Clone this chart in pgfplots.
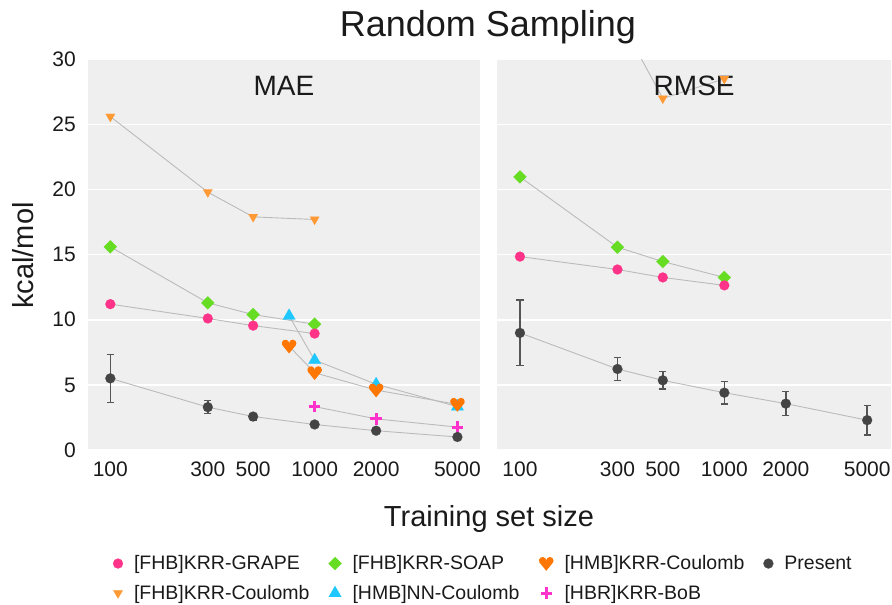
\documentclass[border=0pt]{standalone}
\usepackage{fontspec}
\setmainfont{Liberation Sans}
\usepackage{pgfplots}
\usepackage{pgfplotstable}
\pgfplotsset{compat=1.18}

\definecolor{bgpanel}{HTML}{EFEFEF}
\definecolor{ink}{HTML}{1A1A1A}
\definecolor{linegray}{HTML}{BBBBBB}
\definecolor{cgrape}{HTML}{FF3388}
\definecolor{csoap}{HTML}{66DD22}
\definecolor{cfcoul}{HTML}{FF9933}
\definecolor{chcoul}{HTML}{FF7700}
\definecolor{cnn}{HTML}{1EC8FF}
\definecolor{cbob}{HTML}{FF33CC}
\definecolor{cpres}{HTML}{444444}
\definecolor{cerr}{HTML}{555555}

% heart shaped mark for [HMB]KRR-Coulomb
\pgfdeclareplotmark{heart}{%
  \pgfpathmoveto{\pgfqpoint{0pt}{-1\pgfplotmarksize}}%
  \pgfpathlineto{\pgfqpoint{-0.933\pgfplotmarksize}{0.15\pgfplotmarksize}}%
  \pgfpatharc{210}{0}{0.5\pgfplotmarksize}%
  \pgfpatharc{180}{-30}{0.5\pgfplotmarksize}%
  \pgfpathclose
  \pgfusepathqfill}

% ---- MAE ----
\pgfplotstableread{
x y
100 11.2
300 10.1
500 9.55
1000 8.94
}\grapeMAE
\pgfplotstableread{
x y
100 15.6
300 11.3
500 10.4
1000 9.66
}\soapMAE
\pgfplotstableread{
x y
100 25.6
300 19.8
500 17.9
1000 17.7
}\fcoulMAE
\pgfplotstableread{
x y
750 10.3
1000 6.9
2000 5.05
5000 3.33
}\nnMAE
\pgfplotstableread{
x y
750 7.97
1000 5.93
2000 4.6
5000 3.5
}\hcoulMAE
\pgfplotstableread{
x y
1000 3.33
2000 2.39
5000 1.76
}\bobMAE
\pgfplotstableread{
x y e
100 5.5 1.85
300 3.29 0.5
500 2.57 0.25
1000 1.96 0.15
2000 1.48 0.15
5000 1.0 0.15
}\presMAE
% ---- RMSE ----
\pgfplotstableread{
x y
100 14.85
300 13.86
500 13.25
1000 12.64
}\grapeRMSE
\pgfplotstableread{
x y
100 20.97
300 15.57
500 14.47
1000 13.25
}\soapRMSE
\pgfplotstableread{
x y
300 33.4
500 27.0
1000 28.5
}\fcoulRMSE
\pgfplotstableread{
x y e
100 8.99 2.51
300 6.22 0.87
500 5.35 0.67
1000 4.4 0.85
2000 3.56 0.92
5000 2.29 1.12
}\presRMSE

\pgfplotsset{
  conn/.style={no marks, color=linegray, line width=0.9pt, forget plot},
  mgrape/.style={only marks, color=cgrape, mark=*, mark size=5pt, mark options={fill=cgrape, draw=cgrape, line width=0.1pt}},
  msoap/.style={only marks, color=csoap, mark=square*, mark size=4.6pt, mark options={fill=csoap, draw=csoap, line width=0.1pt, rotate=45}},
  mfcoul/.style={only marks, color=cfcoul, mark=triangle*, mark size=5.4pt, mark options={fill=cfcoul, draw=cfcoul, line width=0.1pt, rotate=180}},
  mnn/.style={only marks, color=cnn, mark=triangle*, mark size=7.2pt, mark options={fill=cnn, draw=cnn, line width=0.1pt}},
  mhcoul/.style={only marks, color=chcoul, mark=heart, mark size=7.3pt, mark options={fill=chcoul, draw=chcoul}},
  mbob/.style={only marks, color=cbob, mark=+, mark size=5.7pt, mark options={draw=cbob, line width=3pt}},
  mpres/.style={only marks, color=cpres, mark=*, mark size=5pt, mark options={fill=cpres, draw=cpres, line width=0.1pt}},
}

\begin{document}
\begin{tikzpicture}
\useasboundingbox (0pt,0pt) rectangle (892pt,605pt);

% ---------- MAE panel ----------
\begin{axis}[
  scale only axis, anchor=south west, at={(87.7pt,155pt)},
  width=392.3pt, height=390.7pt,
  xmode=log, xmin=77.5, xmax=6450, ymin=0, ymax=30,
  axis line style={draw=none},
  axis background/.style={fill=bgpanel},
  ytick={0,5,10,15,20,25,30},
  ymajorgrids, grid style={white, line width=1.6pt},
  xtick={100,300,500,1000,2000,5000},
  xticklabels={100,300,500,1000,2000,5000},
  major tick length=0pt, minor tick length=0pt,
  tick label style={font=\fontsize{21}{21}\selectfont, text=ink},
  xticklabel style={anchor=north, inner sep=0pt, yshift=-11.7pt},
  yticklabel style={anchor=east, inner sep=0pt, xshift=-11.7pt},
  yticklabel={\pgfmathprintnumber[assume math mode=true]{\tick}},
  legend columns=4, legend cell align=left,
  legend style={draw=none, fill=none, inner sep=0pt, outer sep=0pt,
    font=\fontsize{19.5}{19.5}\selectfont, text=ink,
    at={(0.0645,-0.2655)}, anchor=north west, row sep=10pt,
    /tikz/every odd column/.append style={column sep=9pt},
    /tikz/every even column/.append style={column sep=17pt}},
]
\addplot[conn] table[x=x,y=y] {\grapeMAE};
\addplot[conn] table[x=x,y=y] {\soapMAE};
\addplot[conn] table[x=x,y=y] {\fcoulMAE};
\addplot[conn] table[x=x,y=y] {\nnMAE};
\addplot[conn] table[x=x,y=y] {\hcoulMAE};
\addplot[conn] table[x=x,y=y] {\bobMAE};
\addplot[conn] table[x=x,y=y] {\presMAE};

\addplot[mfcoul, forget plot] table[x=x,y=y] {\fcoulMAE};
\addplot[msoap, forget plot] table[x=x,y=y] {\soapMAE};
\addplot[mgrape, forget plot] table[x=x,y=y] {\grapeMAE};
\addplot[mnn, forget plot] table[x=x,y=y] {\nnMAE};
\addplot[mhcoul, forget plot] table[x=x,y=y] {\hcoulMAE};
\addplot[mbob, forget plot] table[x=x,y=y] {\bobMAE};
\addplot[forget plot, mpres, error bars/.cd, y dir=both, y explicit,
    error mark=|,
    error bar style={color=cerr, line width=1.5pt},
    error mark options={color=cerr, line width=1.5pt, mark size=3.6pt}]
  table[x=x,y=y,y error=e] {\presMAE};

\addlegendimage{mgrape}
\addlegendentry{[FHB]KRR-GRAPE}
\addlegendimage{msoap}
\addlegendentry{[FHB]KRR-SOAP}
\addlegendimage{mhcoul}
\addlegendentry{[HMB]KRR-Coulomb}
\addlegendimage{mpres}
\addlegendentry{Present}
\addlegendimage{mfcoul}
\addlegendentry{[FHB]KRR-Coulomb}
\addlegendimage{mnn}
\addlegendentry{[HMB]NN-Coulomb}
\addlegendimage{mbob}
\addlegendentry{[HBR]KRR-BoB}

\node[anchor=base, font=\fontsize{28}{28}\selectfont, text=ink] at (rel axis cs:0.5,1) [yshift=-36.4pt] {MAE};
\end{axis}

% ---------- RMSE panel ----------
\begin{axis}[
  scale only axis, anchor=south west, at={(497.3pt,155pt)},
  width=393.7pt, height=390.7pt,
  xmode=log, xmin=77.5, xmax=6540, ymin=0, ymax=30,
  axis line style={draw=none},
  axis background/.style={fill=bgpanel},
  ytick={0,5,10,15,20,25,30}, yticklabels={},
  ymajorgrids, grid style={white, line width=1.6pt},
  xtick={100,300,500,1000,2000,5000},
  xticklabels={100,300,500,1000,2000,5000},
  major tick length=0pt, minor tick length=0pt,
  tick label style={font=\fontsize{21}{21}\selectfont, text=ink},
  xticklabel style={anchor=north, inner sep=0pt, yshift=-11.7pt},
]
\addplot[conn] table[x=x,y=y] {\grapeRMSE};
\addplot[conn] table[x=x,y=y] {\soapRMSE};
\addplot[conn] table[x=x,y=y] {\fcoulRMSE};
\addplot[conn] table[x=x,y=y] {\presRMSE};

\addplot[mfcoul] table[x=x,y=y] {\fcoulRMSE};
\addplot[msoap] table[x=x,y=y] {\soapRMSE};
\addplot[mgrape] table[x=x,y=y] {\grapeRMSE};
\addplot[mpres, error bars/.cd, y dir=both, y explicit,
    error mark=|,
    error bar style={color=cerr, line width=1.5pt},
    error mark options={color=cerr, line width=1.5pt, mark size=3.6pt}]
  table[x=x,y=y,y error=e] {\presRMSE};

\node[anchor=base, font=\fontsize{28}{28}\selectfont, text=ink] at (rel axis cs:0.5,1) [yshift=-36.4pt] {RMSE};
\end{axis}

\node[anchor=base, font=\fontsize{36}{36}\selectfont, text=ink] at (488pt,568.3pt) {Random Sampling};
\node[anchor=base, font=\fontsize{29}{29}\selectfont, text=ink] at (489pt,78.3pt) {Training set size};
\node[anchor=base, rotate=90, font=\fontsize{29}{29}\selectfont, text=ink] at (33pt,349.5pt) {kcal/mol};
\end{tikzpicture}
\end{document}
